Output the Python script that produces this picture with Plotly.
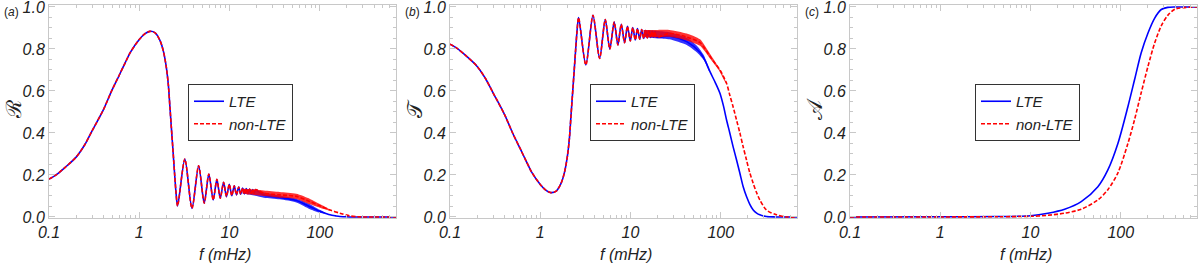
import plotly.graph_objects as go

# ---------------- data ----------------
# shared low-frequency grid (mHz) for panels (a) and (b)
F_LOW = [0.1, 0.12, 0.15, 0.2, 0.25, 0.3, 0.4, 0.5, 0.6, 0.7, 0.8, 1.0, 1.15, 1.31,
         1.5, 1.7, 1.85, 2.0, 2.1, 2.19, 2.3, 2.38, 2.47, 2.55]
R_LOW = [0.18, 0.20, 0.235, 0.285, 0.345, 0.41, 0.51, 0.605, 0.675, 0.735, 0.785, 0.845,
         0.872, 0.884, 0.877, 0.84, 0.79, 0.71, 0.63, 0.52, 0.39, 0.30, 0.20, 0.12]
T_LOW = [0.823, 0.803, 0.768, 0.717, 0.656, 0.591, 0.49, 0.395, 0.325, 0.265, 0.215, 0.155,
         0.128, 0.116, 0.123, 0.16, 0.21, 0.29, 0.37, 0.48, 0.61, 0.70, 0.80, 0.88]

# resolved oscillation extrema (mHz)
F_OSC = [2.66, 3.2, 3.84, 4.55, 5.25, 5.9, 6.6, 7.25, 7.9, 8.6, 9.25, 9.95, 10.6,
         11.3, 11.95, 12.65, 13.3, 14.0, 14.65, 15.35, 16.0, 16.7, 17.4, 18.05, 18.7, 19.4]
R_OSC = [0.052, 0.276, 0.041, 0.244, 0.066, 0.204, 0.081, 0.179, 0.089, 0.165, 0.097,
         0.156, 0.101, 0.148, 0.105, 0.143, 0.108, 0.138, 0.11, 0.135, 0.111, 0.133,
         0.112, 0.131, 0.113, 0.13]
T_OSC = [0.95, 0.724, 0.96, 0.755, 0.94, 0.80, 0.928, 0.819, 0.918, 0.83, 0.908, 0.838,
         0.902, 0.843, 0.897, 0.847, 0.893, 0.85, 0.888, 0.853, 0.886, 0.855, 0.884,
         0.856, 0.883, 0.857]

# panel (a) high-frequency part
FA_LTE_TAIL = [24, 36, 55, 78, 100, 115, 130, 150, 167, 190, 215, 300, 700]
RA_LTE_TAIL = [0.104, 0.093, 0.078, 0.049, 0.027, 0.018, 0.01, 0.005, 0.002, 0.001, 0.0, 0.0, 0.0]
FA_NLTE_TAIL = [24, 36, 55, 78, 100, 130, 167, 215, 260, 300, 700]
RA_NLTE_TAIL = [0.113, 0.105, 0.098, 0.073, 0.053, 0.033, 0.018, 0.005, 0.001, 0.0, 0.0]

FA_LTE_BAND = [14, 17, 24, 36, 55, 78, 100, 115]
RA_LTE_HI = [0.134, 0.13, 0.117, 0.102, 0.087, 0.061, 0.034, 0.02]
RA_LTE_LO = [0.112, 0.106, 0.092, 0.084, 0.069, 0.037, 0.02, 0.016]
FA_NLTE_BAND = [14, 17, 24, 36, 55, 78, 100, 130]
RA_NLTE_HI = [0.134, 0.132, 0.126, 0.119, 0.11, 0.086, 0.062, 0.035]
RA_NLTE_LO = [0.112, 0.107, 0.1, 0.092, 0.086, 0.06, 0.044, 0.031]

# panel (b) high-frequency part
FB_LTE_TAIL = [27, 42, 59, 68, 76, 87, 98, 107, 116, 126, 137, 150, 163, 177, 193,
               210, 229, 250, 271, 321, 400, 700]
TB_LTE_TAIL = [0.862, 0.835, 0.783, 0.74, 0.692, 0.64, 0.589, 0.53, 0.462, 0.40,
               0.335, 0.27, 0.208, 0.145, 0.097, 0.06, 0.033, 0.018, 0.01, 0.002, 0.0, 0.0]
FB_NLTE_TAIL = [27, 42, 59, 76, 87, 98, 107, 116, 126, 137, 150, 163, 177, 193, 210,
                229, 250, 271, 321, 415, 536, 700]
TB_NLTE_TAIL = [0.874, 0.857, 0.83, 0.765, 0.73, 0.70, 0.67, 0.637, 0.58, 0.525,
                0.46, 0.40, 0.335, 0.271, 0.21, 0.16, 0.115, 0.081, 0.033, 0.01, 0.0, 0.0]

FB_LTE_BAND = [14, 20, 27, 42, 55, 65, 75]
TB_LTE_HI = [0.89, 0.886, 0.88, 0.853, 0.813, 0.77, 0.70]
TB_LTE_LO = [0.857, 0.85, 0.846, 0.819, 0.782, 0.746, 0.69]
FB_NLTE_BAND = [14, 20, 27, 42, 59, 76, 95, 115]
TB_NLTE_HI = [0.89, 0.891, 0.891, 0.874, 0.846, 0.777, 0.712, 0.642]
TB_NLTE_LO = [0.857, 0.856, 0.858, 0.841, 0.815, 0.755, 0.70, 0.634]

# panel (c)
F_C = [0.1, 1, 4.36, 10, 15.6, 23.9, 36.5, 55.8, 72, 93, 120, 142, 168, 200, 237, 281, 332, 400, 700]
A_LTE = [0.0, 0.001, 0.002, 0.006, 0.018, 0.037, 0.073, 0.144, 0.224, 0.35, 0.525, 0.652,
         0.78, 0.875, 0.946, 0.988, 0.998, 1.0, 1.0]
A_NLTE = [0.0, 0.0, 0.001, 0.003, 0.008, 0.018, 0.037, 0.081, 0.13, 0.21, 0.35, 0.462,
          0.589, 0.716, 0.827, 0.91, 0.96, 0.99, 1.0]

X_TICKS = [0.1, 1, 10, 100]
X_TICKTEXT = ["0.1", "1", "10", "100"]
Y_TICKS = [0.0, 0.2, 0.4, 0.6, 0.8, 1.0]
Y_TICKTEXT = ["0.0", "0.2", "0.4", "0.6", "0.8", "1.0"]
SERIES_NAMES = ["LTE", "non-LTE"]
PANEL_LABELS = ["a", "b", "c"]
Y_TITLES = ["\u211B", "\U0001D4AF", "\U0001D49C"]

# ---------------- figure ----------------
BLUE = "#0000ff"
RED = "#ff0000"
BLUE_BAND = "rgba(0,0,255,0.8)"
RED_BAND = "rgba(255,0,0,0.8)"
FONT = "Liberation Sans, Arial, sans-serif"
W, H = 1200, 264

fig = go.Figure()


def add_band(f, hi, lo, color, xa, ya):
    fig.add_trace(go.Scatter(x=list(f) + list(f)[::-1], y=list(hi) + list(lo)[::-1],
                             fill="toself", fillcolor=color, mode="lines",
                             line=dict(width=0, color=color, shape="spline", smoothing=0.6),
                             hoverinfo="skip", showlegend=False, xaxis=xa, yaxis=ya))


def add_line(f, y, color, dash, name, legend, xa, ya):
    fig.add_trace(go.Scatter(x=f, y=y, mode="lines", name=name,
                             line=dict(color=color, width=1.6, dash=dash, shape="spline",
                                       smoothing=0.8),
                             legend=legend, xaxis=xa, yaxis=ya))


# panel (a)
add_band(FA_LTE_BAND, RA_LTE_HI, RA_LTE_LO, BLUE_BAND, "x", "y")
add_line(F_LOW + F_OSC + FA_LTE_TAIL, R_LOW + R_OSC + RA_LTE_TAIL, BLUE, "solid",
         SERIES_NAMES[0], "legend", "x", "y")
add_band(FA_NLTE_BAND, RA_NLTE_HI, RA_NLTE_LO, RED_BAND, "x", "y")
add_line(F_LOW + F_OSC + FA_NLTE_TAIL, R_LOW + R_OSC + RA_NLTE_TAIL, RED, "4px,2px",
         SERIES_NAMES[1], "legend", "x", "y")

# panel (b)
add_band(FB_LTE_BAND, TB_LTE_HI, TB_LTE_LO, BLUE_BAND, "x2", "y2")
add_line(F_LOW + F_OSC + FB_LTE_TAIL, T_LOW + T_OSC + TB_LTE_TAIL, BLUE, "solid",
         SERIES_NAMES[0], "legend2", "x2", "y2")
add_band(FB_NLTE_BAND, TB_NLTE_HI, TB_NLTE_LO, RED_BAND, "x2", "y2")
add_line(F_LOW + F_OSC + FB_NLTE_TAIL, T_LOW + T_OSC + TB_NLTE_TAIL, RED, "4px,2px",
         SERIES_NAMES[1], "legend2", "x2", "y2")

# panel (c)
add_line(F_C, A_LTE, BLUE, "solid", SERIES_NAMES[0], "legend3", "x3", "y3")
add_line(F_C, A_NLTE, RED, "4px,2px", SERIES_NAMES[1], "legend3", "x3", "y3")

frame_col = "#c8c8c8"
minor_x = [m * 10 ** e for e in (-1, 0, 1, 2) for m in range(2, 10) if m * 10 ** e < 700]

x_domains = [(49, 396), (450, 797), (850, 1197)]
y_dom = [1 - 218 / H, 1 - 5 / H]
axis_font = dict(family=FONT, size=16, color="#222222", style="italic")

layout = dict(width=W, height=H, margin=dict(l=0, r=0, t=0, b=0, autoexpand=False),
              paper_bgcolor="white", plot_bgcolor="white", showlegend=True)
for i, (x0, x1) in enumerate(x_domains):
    sfx = "" if i == 0 else str(i + 1)
    layout["xaxis" + sfx] = dict(
        type="log", range=[-1, 2.845], domain=[x0 / W, x1 / W], anchor="y" + sfx,
        showline=True, linecolor=frame_col, linewidth=1, mirror="ticks",
        ticks="inside", ticklen=6, tickcolor=frame_col, automargin=False,
        ticklabeloverflow="allow",
        tickmode="array", tickvals=X_TICKS, ticktext=X_TICKTEXT, tickfont=axis_font,
        minor=dict(tickmode="array", tickvals=minor_x, ticks="inside", ticklen=3,
                   tickcolor=frame_col, showgrid=False),
        showgrid=False, zeroline=False)
    layout["yaxis" + sfx] = dict(
        range=[-0.005, 1.0095], domain=y_dom, anchor="x" + sfx,
        showline=True, linecolor=frame_col, linewidth=1, mirror="ticks",
        ticks="inside", ticklen=6, tickcolor=frame_col, automargin=False,
        ticklabeloverflow="allow",
        tickmode="array", tickvals=Y_TICKS, ticktext=Y_TICKTEXT, tickfont=axis_font,
        minor=dict(dtick=0.05, ticks="inside", ticklen=3, tickcolor=frame_col, showgrid=False),
        showgrid=False, zeroline=False)

legend_left = [188, 590, 975]
for i, lx in enumerate(legend_left):
    key = "legend" if i == 0 else "legend" + str(i + 1)
    layout[key] = dict(x=lx / W, y=1 - 84 / H, xanchor="left", yanchor="top",
                       bgcolor="white", bordercolor="#333333", borderwidth=1,
                       font=dict(family=FONT, size=15, color="#222222", style="italic"),
                       itemwidth=30, tracegroupgap=0)

fig.update_layout(**layout)

annotations = []
for i, (x0, x1) in enumerate(x_domains):
    annotations.append(dict(text="f (mHz)", x=(x0 + x1) / 2 / W + 2 / W, y=1 - 254 / H,
                            xref="paper", yref="paper", showarrow=False,
                            xanchor="center", yanchor="middle",
                            font=dict(family=FONT, size=16, color="#222222", style="italic")))
    annotations.append(dict(text=Y_TITLES[i], x=(x0 - 35) / W, y=1 - 109 / H,
                            xref="paper", yref="paper", showarrow=False, textangle=-90,
                            xanchor="center", yanchor="middle",
                            font=dict(family="DejaVu Serif, serif", size=21, color="#222222")))
    annotations.append(dict(text="(<i>" + PANEL_LABELS[i] + "</i>)", x=(x0 - 47) / W,
                            y=1 - 12 / H, xref="paper", yref="paper", showarrow=False,
                            xanchor="left", yanchor="middle",
                            font=dict(family=FONT, size=12, color="#222222")))
fig.update_layout(annotations=annotations)

fig.write_html("out.html", config={"displayModeBar": False},
               post_script="document.body.style.margin='0px';"
                           "document.body.style.overflow='hidden';")
